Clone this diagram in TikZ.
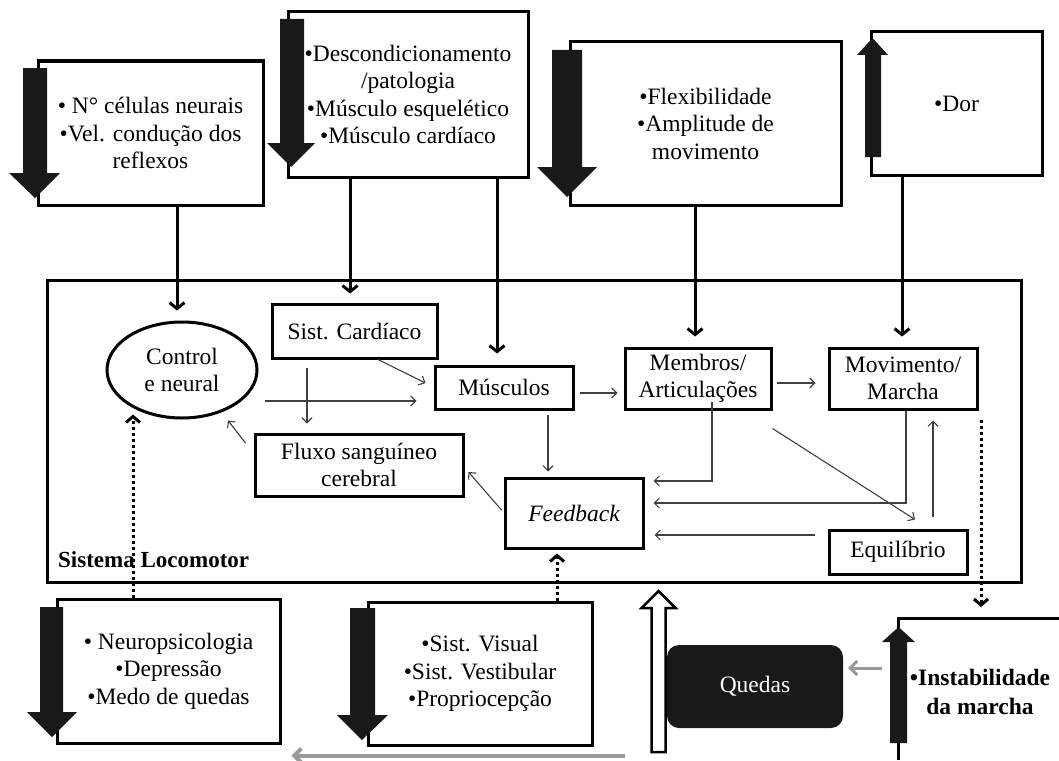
\documentclass[tikz,border=0pt]{standalone}
\usepackage{fontspec}
\setmainfont{Liberation Serif}
\usetikzlibrary{arrows.meta,calc,shapes.geometric}
\begin{document}
\begin{tikzpicture}[x=1pt,y=-1pt,
 every node/.style={font=\fontsize{23.5}{27.5}\selectfont, inner sep=0pt, align=center},
 box/.style={draw, line width=3pt, rectangle},
 blk/.style={fill=black!90},
 thk/.style={line width=3pt, -{Straight Barb[length=6pt,width=15pt]}},
 thn/.style={line width=1.1pt, draw=black!75, -{Straight Barb[length=5pt,width=10pt]}},
 dotl/.style={line width=3pt, dash pattern=on 3pt off 3pt, -{Straight Barb[length=6pt,width=14pt]}},
 gry/.style={draw=black!40, -{Straight Barb[length=7pt,width=14pt]}},
]
\useasboundingbox (0,0) rectangle (1059,760);

% top boxes
\node[box, minimum width=225pt, minimum height=144pt] (boxA) at (150.5,133) {• N° células neurais\\•Vel. condução dos\\reflexos};
\node[box, minimum width=240pt, minimum height=165pt] (boxB) at (408,94.5) {•Descondicionamento\\/patologia\\•Músculo esquelético\\•Músculo cardíaco};
\node[box, minimum width=271pt, minimum height=163pt] (boxC) at (705.5,123.5) {•Flexibilidade\\•Amplitude de\\movimento};
\node[box, minimum width=171pt, minimum height=143pt] (boxD) at (956.5,103.5) {•Dor};

% locomotor system
\node[box, minimum width=974pt, minimum height=302pt] (loco) at (534,431) {};
\node[anchor=west, font=\bfseries\fontsize{23}{27}\selectfont] (loclabel) at (58,560) {Sistema Locomotor};

\node[draw, ellipse, line width=3pt, minimum width=150pt, minimum height=96pt] (ctrl) at (182,370) {Control\\e neural};
\node[box, minimum width=165pt, minimum height=54pt] (card) at (354.5,331) {Sist. Cardíaco};
\node[box, minimum width=138pt, minimum height=43pt] (musc) at (504,387.5) {Músculos};
\node[box, minimum width=208pt, minimum height=62pt] (fluxo) at (359,465) {Fluxo sanguíneo\\cerebral};
\node[box, minimum width=138pt, minimum height=70pt] (feed) at (574,513) {\itshape Feedback};
\node[box, minimum width=146pt, minimum height=61pt] (memb) at (698,378.5) {Membros/\\Articulações};
\node[box, minimum width=148pt, minimum height=61pt] (movi) at (903,378.5) {Movimento/\\Marcha};
\node[box, minimum width=138pt, minimum height=44pt] (equi) at (898,552) {Equilíbrio};

% bottom boxes
\node[box, minimum width=223pt, minimum height=144pt] (neuro) at (168.5,671) {• Neuropsicologia\\•Depressão\\•Medo de quedas};
\node[box, minimum width=224pt, minimum height=143pt] (vis) at (480,673.5) {•Sist. Visual\\•Sist. Vestibular\\•Propriocepção};
\node[fill=black!90, rounded corners=12pt, minimum width=176pt, minimum height=83pt, text=white] (qued) at (755,686.5) {Quedas};
\coordinate (instab) at (898,618);
\draw[line width=3pt] (898,760) -- (instab) -- (1059,618);
\node[font=\bfseries\fontsize{23.5}{29}\selectfont] (instabtxt) at (980,692) {•Instabilidade\\da marcha};

% black block arrows
\fill[blk] (23,68) -- (47,68) -- (47,173) -- (60,173) -- (35,198) -- (9,173) -- (23,173) -- cycle;
\fill[blk] (280,19) -- (304,19) -- (304,143) -- (315,143) -- (291,167) -- (267,143) -- (280,143) -- cycle;
\fill[blk] (552,50) -- (582,50) -- (582,167) -- (597,167) -- (567,197) -- (537,167) -- (552,167) -- cycle;
\fill[blk] (865,157) -- (881,157) -- (881,55) -- (888,55) -- (872.5,38) -- (857,55) -- (865,55) -- cycle;
\fill[blk] (40,607) -- (63,607) -- (63,712) -- (77,712) -- (52,737) -- (27,712) -- (40,712) -- cycle;
\fill[blk] (350,608) -- (375,608) -- (375,715) -- (388,715) -- (362,740) -- (337,715) -- (350,715) -- cycle;
\fill[blk] (890,743) -- (907,743) -- (907,642) -- (915,642) -- (898.5,627) -- (882,642) -- (890,642) -- cycle;

% white hollow arrow
\draw[line width=2.5pt, fill=white] (651.5,752) -- (665.5,752) -- (665.5,608) -- (675.5,608) -- (658.5,591) -- (641.5,608) -- (651.5,608) -- cycle;

% thick connectors from top boxes
\draw[thk, shorten >=10pt] (boxA.south -| 177,0) -- (ctrl.north -| 177,0);
\draw[thk, shorten >=9pt] (boxB.south -| 350,0) -- (card.north -| 350,0);
\draw[thk, shorten >=11pt] (boxB.south -| 497,0) -- (musc.north -| 497,0);
\draw[thk, shorten >=10pt] (boxC.south -| 695,0) -- (memb.north -| 695,0);
\draw[thk, shorten >=10pt] (boxD.south -| 902,0) -- (movi.north -| 902,0);

% thin connectors
\draw[thn] ($(card.south)+(23.5,0)$) -- ($(musc.west)+(-8,-4.5)$);
\draw[thn] ($(card.south)+(-47.5,8)$) -- ($(fluxo.north)+(-52,-9)$);
\draw[thn] ($(ctrl.east)+(6,31)$) -- ($(musc.west)+(-17,13.5)$);
\draw[thn] ($(fluxo.west)+(-8,-22)$) -- ($(ctrl.south)+(46,1)$);
\draw[thn] ($(feed.west)+(-2,-3)$) -- ($(fluxo.east)+(4,7)$);
\draw[thn] ($(musc.east)+(5,5.5)$) -- ($(memb.west)+(-6,14.5)$);
\draw[thn] ($(musc.south)+(44,4)$) -- ($(feed.north)+(-26,-5)$);
\draw[thn] ($(memb.east)+(4,4.5)$) -- ($(movi.west)+(-12,4.5)$);
\draw[thn] ($(memb.south)+(14,-9)$) |- ($(feed.east)+(9,-32)$);
\draw[thn] ($(movi.south)+(3,0)$) |- ($(feed.east)+(9,-10)$);
\draw[thn] ($(equi.west)+(-13,-17)$) -- ($(feed.east)+(10,22)$);
\draw[thn] ($(memb.south east)+(0,18)$) -- ($(equi.north)+(17,-9)$);
\draw[thn] ($(equi.north)+(35,-12)$) -- ($(movi.south)+(30,10)$);

% dotted connectors
\draw[dotl] ($(neuro.north)+(-35.5,0)$) -- ($(ctrl.south)+(-49,-5)$);
\draw[dotl] ($(vis.north)+(77,0)$) -- ($(feed.south)+(-17,4)$);
\draw[dotl] ($(movi.south)+(78,9)$) -- ($(instab)+(83,-11)$);

% grey connectors
\draw[gry, line width=3pt] ($(instab)+(-16,50)$) -- ($(qued.east)+(5,-18.5)$);
\draw[gry, line width=4pt] ($(vis.south)+(145,9)$) -- ($(neuro.south east)+(10,11)$);
\end{tikzpicture}
\end{document}
